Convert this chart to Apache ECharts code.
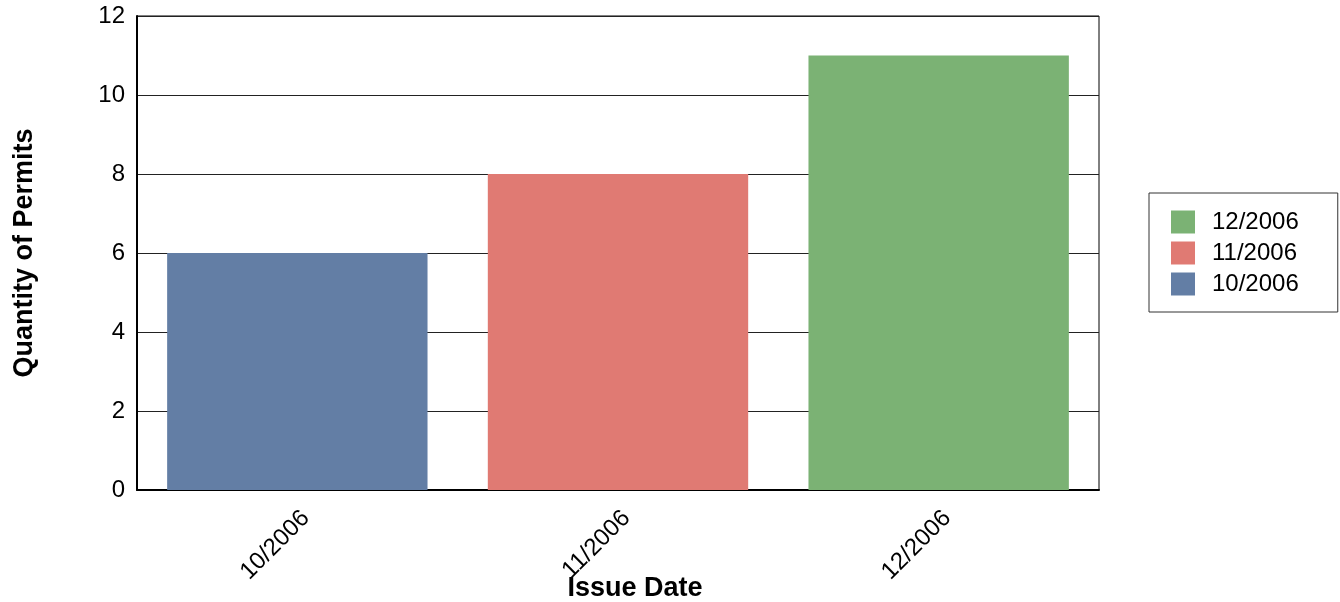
<!DOCTYPE html>
<html>
<head>
<meta charset="utf-8">
<script src="https://cdn.jsdelivr.net/npm/echarts@6/dist/echarts.min.js"></script>
<style>html,body{margin:0;padding:0;background:#fff;}#c{width:1340px;height:602px;}</style>
</head>
<body>
<div id="c"></div>
<script>
const categories = ['10/2006', '11/2006', '12/2006'];
const seriesNames = ['10/2006', '11/2006', '12/2006'];
const permitValues = [6, 8, 11];
const seriesColors = ['#637ea5', '#e07a73', '#7bb274'];
const legendOrder = ['12/2006', '11/2006', '10/2006'];
const yTicks = [0, 2, 4, 6, 8, 10, 12];

const font = 'Liberation Sans, Arial, sans-serif';
const chart = echarts.init(document.getElementById('c'), null, {renderer: 'canvas'});

const series = seriesNames.map((name, i) => ({
  name: name,
  type: 'bar',
  stack: 'permits',
  barCategoryGap: '18.8%',
  itemStyle: {color: seriesColors[i]},
  data: categories.map((c, j) => (j === i ? permitValues[i] : '-'))
}));

chart.setOption({
  animation: false,
  textStyle: {fontFamily: font},
  grid: {left: 137, right: 241, top: 16, bottom: 112, show: true, borderColor: '#000', borderWidth: 1, containLabel: false, outerBoundsMode: 'none'},
  legend: {
    orient: 'vertical',
    left: 1149,
    top: 193,
    data: legendOrder,
    itemWidth: 24,
    itemHeight: 23,
    itemGap: 7,
    padding: [17, 39, 16, 22],
    borderColor: '#333',
    borderWidth: 1,
    icon: 'rect',
    textStyle: {fontSize: 24, color: '#000', fontFamily: font, padding: [0, 0, 0, 12]}
  },
  xAxis: {
    type: 'category',
    data: categories,
    name: 'Issue Date',
    nameLocation: 'middle',
    nameGap: 85,
    nameMoveOverlap: false,
    nameTextStyle: {fontSize: 27, fontWeight: 'bold', color: '#000', fontFamily: font, padding: [0, 0, 0, 34]},
    axisLine: {lineStyle: {color: '#000', width: 2}},
    axisTick: {show: false},
    axisLabel: {rotate: 45, fontSize: 24, color: '#000', margin: 16, fontFamily: font, verticalAlign: 'top'},
    splitLine: {show: false}
  },
  yAxis: {
    type: 'value',
    min: yTicks[0],
    max: yTicks[yTicks.length - 1],
    interval: 2,
    name: 'Quantity of Permits',
    nameLocation: 'middle',
    nameGap: 99,
    nameTextStyle: {fontSize: 27, fontWeight: 'bold', color: '#000', fontFamily: font},
    axisLine: {show: true, lineStyle: {color: '#000', width: 2}},
    axisTick: {show: false},
    axisLabel: {fontSize: 24, color: '#000', margin: 12, fontFamily: font},
    splitLine: {show: true, lineStyle: {color: '#222', width: 1}}
  },
  series: series
});
</script>
</body>
</html>
